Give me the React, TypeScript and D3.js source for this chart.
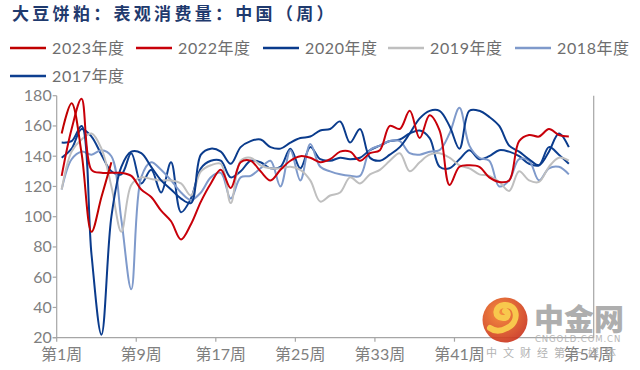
import { useEffect, useRef } from 'react';
import * as d3 from 'd3';

const title = '大豆饼粕：表观消费量：中国（周）';
const weeks = d3.range(1, 55);
const tickWeeks = [1, 9, 17, 25, 33, 41];
const labelWeeks = [1, 9, 17, 25, 33, 41, 54];
const yTicks = [20, 40, 60, 80, 100, 120, 140, 160, 180];

const seriesNames = ['2023年度', '2022年度', '2020年度', '2019年度', '2018年度', '2017年度'];
const seriesColors = ['#C00000', '#C8000A', '#0A3B8C', '#BFBFBF', '#7F9ACB', '#0D3F90'];

const s2023 = [155, 175, 142, 90, 113, 136];
const s2022 = [127, 158, 178, 131, 129, 129, 129, 127, 118, 113, 104, 97, 85, 95, 110, 122, 131, 119, 136, 137, 130, 124, 131, 137, 140, 139, 136, 138, 143, 143, 137, 142, 144, 160, 158, 170, 152, 167, 157, 121, 133, 134, 133, 126, 123, 124, 150, 154, 153, 158, 154, 153];
const s2020 = [149, 150, 160, 75, 22, 100, 133, 143, 142, 133, 124, 118, 112, 109, 141, 145, 143, 135, 146, 150, 151, 146, 145, 149, 152, 153, 157, 158, 163, 149, 158, 139, 137, 141, 146, 155, 165, 170, 170, 160, 145, 170, 170, 166, 160, 147, 143, 138, 134, 143, 155, 146];
const s2019 = [118, 143, 151, 155, 145, 120, 90, 121, 126, 125, 124, 124, 122, 114, 130, 134, 135, 109, 137, 139, 134, 132, 132, 133, 131, 124, 110, 114, 116, 126, 122, 128, 131, 137, 142, 130, 136, 141, 142, 139, 134, 132, 128, 127, 123, 117, 130, 124, 123, 133, 139, 137];
const s2018 = [118, 138, 143, 141, 144, 140, 98, 52, 126, 136, 131, 124, 116, 111, 116, 126, 129, 112, 126, 127, 132, 137, 120, 144, 124, 148, 133, 130, 128, 127, 127, 144, 147, 150, 150, 142, 141, 143, 144, 155, 172, 147, 139, 137, 120, 124, 138, 137, 124, 132, 133, 128];
const s2017 = [139, 145, 158, 153, 141, 130, 128, 142, 122, 131, 116, 136, 103, 112, 132, 137, 137, 126, 130, 137, 136, 132, 133, 145, 132, 146, 138, 137, 139, 138, 139, 144, 147, 150, 151, 155, 157, 152, 133, 132, 138, 144, 138, 140, 144, 143, 140, 135, 134, 146, 141, 135];

const allSeries = [s2023, s2022, s2020, s2019, s2018, s2017];

const font = "Lato, 'Noto Sans CJK SC', sans-serif";

const App = () => {
  const svgRef = useRef<SVGSVGElement | null>(null);

  useEffect(() => {
    if (!svgRef.current) return;
    const svg = d3.select(svgRef.current);
    svg.selectAll('*').remove();

    const left = 56.7, right = 593.7, top = 95.7, bottom = 337.7;

    const x = d3.scaleBand<number>().domain(weeks).range([left, right]).paddingInner(0).paddingOuter(0);
    const y = d3.scaleLinear().domain([20, 180]).range([bottom, top]);
    const cx = (w: number) => (x(w) ?? 0) + x.bandwidth() / 2;

    // title
    svg.append('text')
      .attr('x', 12).attr('y', 20)
      .attr('font-family', "'Noto Sans CJK SC', sans-serif")
      .attr('font-weight', 700)
      .attr('font-size', 17)
      .attr('letter-spacing', 3.3)
      .attr('fill', '#1F3A6E')
      .text(title);

    // legend
    const legendPos = [[10, 48], [136, 48], [263, 48], [388, 48], [515, 48], [10, 76]];
    seriesNames.forEach((name, i) => {
      const [lx, ly] = legendPos[i];
      const g = svg.append('g').attr('transform', `translate(${lx},${ly})`);
      g.append('line').attr('x1', 0).attr('x2', 36).attr('y1', 0).attr('y2', 0)
        .attr('stroke', seriesColors[i]).attr('stroke-width', 2.5);
      g.append('text').attr('x', 42).attr('y', 6)
        .attr('font-family', font).attr('font-size', 16).attr('fill', '#6E6E6E')
        .attr('letter-spacing', 0.6)
        .text(name);
    });

    // axes
    const axisColor = '#A6A6A6';
    svg.append('line').attr('x1', left).attr('x2', left).attr('y1', top).attr('y2', bottom)
      .attr('stroke', axisColor).attr('stroke-width', 1.2);
    svg.append('line').attr('x1', right).attr('x2', right).attr('y1', top).attr('y2', bottom)
      .attr('stroke', axisColor).attr('stroke-width', 1.2);
    svg.append('line').attr('x1', left - 4).attr('x2', right).attr('y1', bottom).attr('y2', bottom)
      .attr('stroke', axisColor).attr('stroke-width', 1.2);

    yTicks.forEach(v => {
      svg.append('line').attr('x1', left - 4).attr('x2', left).attr('y1', y(v)).attr('y2', y(v))
        .attr('stroke', axisColor).attr('stroke-width', 1.2);
      svg.append('text').attr('x', left - 5).attr('y', y(v) + 5.5)
        .attr('text-anchor', 'end')
        .attr('font-family', font).attr('font-size', 16).attr('fill', '#7F7F7F')
        .text(v);
    });

    tickWeeks.forEach(w => {
      const tx = x(w) ?? 0;
      svg.append('line').attr('x1', tx).attr('x2', tx).attr('y1', bottom).attr('y2', bottom + 4)
        .attr('stroke', axisColor).attr('stroke-width', 1.2);
    });
    labelWeeks.forEach(w => {
      svg.append('text').attr('x', cx(w)).attr('y', 360)
        .attr('text-anchor', 'middle')
        .attr('font-family', font).attr('font-size', 16).attr('fill', '#7F7F7F')
        .text(`第${w}周`);
    });

    // lines
    const line = d3.line<number>()
      .x((_, i) => cx(i + 1))
      .y(d => y(d))
      .curve(d3.curveCatmullRom.alpha(0.5));

    for (let i = allSeries.length - 1; i >= 0; i--) {
      svg.append('path')
        .datum(allSeries[i])
        .attr('fill', 'none')
        .attr('stroke', seriesColors[i])
        .attr('stroke-width', 2)
        .attr('d', line);
    }

    // watermark
    const wm = svg.append('g').attr('opacity', 0.9);
    const grad = svg.append('defs').append('radialGradient').attr('id', 'lg')
      .attr('cx', '40%').attr('cy', '35%').attr('r', '70%');
    grad.append('stop').attr('offset', '0%').attr('stop-color', '#F5822A');
    grad.append('stop').attr('offset', '100%').attr('stop-color', '#C9301C');
    wm.append('circle').attr('cx', 505).attr('cy', 320).attr('r', 22.5).attr('fill', 'url(#lg)');
    wm.append('path')
      .attr('d', 'M507,328 C520,322 518,304 504,305 C494,306 494,318 503,318 C509,318 509,312 505,311 M507,328 C500,332 494,331 490,328')
      .attr('fill', 'none').attr('stroke', '#F8C33A').attr('stroke-width', 6).attr('stroke-linecap', 'round');
    wm.append('text').attr('x', 534).attr('y', 330)
      .attr('font-family', "'Noto Sans CJK SC', sans-serif").attr('font-weight', 900)
      .attr('font-size', 30).attr('fill', '#A6A6A6').text('中金网');
    wm.append('text').attr('x', 535).attr('y', 341.5)
      .attr('font-family', "'DejaVu Sans', sans-serif")
      .attr('font-size', 8.5).attr('letter-spacing', 0.9).attr('fill', '#B0B0B0').text('CNGOLD.COM.CN');
    wm.append('text').attr('x', 486).attr('y', 357)
      .attr('font-family', "'Noto Sans CJK SC', sans-serif")
      .attr('font-size', 11).attr('letter-spacing', 6).attr('fill', '#ABABAB').text('中文财经第一媒体');
  }, []);

  return (
    <svg
      ref={svgRef}
      width={640}
      height={370}
      style={{ position: 'absolute', left: 0, top: 0, background: '#fff' }}
    />
  );
};

export default App;
